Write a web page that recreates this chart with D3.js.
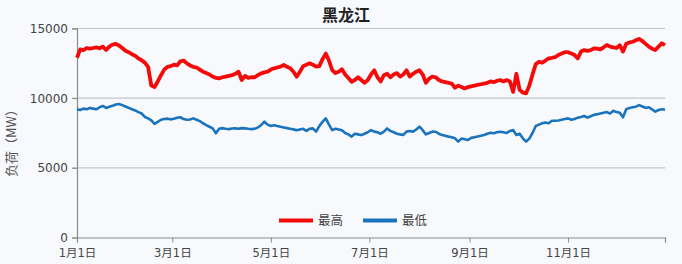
<!DOCTYPE html>
<html><head><meta charset="utf-8">
<script src="https://cdn.jsdelivr.net/npm/d3@7"></script>
<style>html,body{margin:0;padding:0;background:#f7f9fc;}svg{display:block;}</style>
</head><body>
<svg id="c" width="682" height="264"></svg>
<script>
// ---- data (one value every 2 days, starting Jan 1) ----
const title = "黑龙江";
const yLabel = "负荷（MW）";
const seriesNames = ["最高", "最低"];
const startDate = new Date(2019, 0, 1);
const dayStep = 2;
const maxLoad = [
12900,13500,13450,13600,13550,13600,13650,13580,13700,13460,13700,13850,13900,13780,13600,13400,13300,13150,13050,12850,
12720,12550,12250,10900,10800,11200,11650,12050,12250,12300,12400,12350,12650,12700,12500,12350,12250,12200,12050,11900,
11800,11700,11550,11450,11420,11500,11550,11600,11650,11750,11900,11300,11600,11450,11500,11500,11650,11780,11850,11900,
12050,12140,12200,12260,12380,12250,12150,11900,11540,11900,12300,12400,12500,12400,12260,12300,12800,13200,12700,12020,
11800,11900,12070,11700,11450,11180,11300,11500,11300,11100,11300,11700,12000,11500,11200,11650,11750,11500,11700,11800,
11550,11700,12000,11550,11750,11900,12000,11700,11100,11400,11550,11500,11300,11200,11150,11100,11050,10750,10900,10800,
10700,10800,10850,10900,10950,11000,11050,11100,11200,11150,11250,11300,11200,11300,11200,10450,11750,10600,10400,10350,
10900,11700,12450,12600,12550,12700,12860,12900,12950,13100,13200,13300,13300,13200,13100,12850,13350,13450,13400,13450,
13580,13550,13500,13650,13820,13700,13650,13600,13800,13340,13900,14000,14050,14150,14250,14100,13900,13700,13550,13460,
13700,13940,13800];
const minLoad = [
9200,9150,9250,9200,9300,9250,9200,9350,9440,9300,9380,9450,9550,9580,9500,9400,9300,9200,9120,9000,
8900,8650,8550,8400,8150,8300,8450,8500,8530,8480,8520,8600,8630,8500,8450,8470,8550,8450,8350,8200,
8070,7950,7830,7480,7800,7850,7800,7780,7820,7830,7800,7850,7830,7800,7780,7800,7900,8070,8310,8100,
8000,8050,8000,7950,7900,7850,7800,7760,7700,7750,7800,7650,7800,7830,7600,8000,8300,8550,8100,7710,
7800,7750,7700,7500,7400,7240,7450,7400,7350,7450,7550,7710,7600,7550,7450,7600,7830,7650,7550,7450,
7400,7360,7600,7650,7600,7750,7950,7700,7400,7500,7600,7590,7450,7350,7300,7240,7200,7120,6880,7100,
7050,7000,7150,7200,7250,7300,7360,7450,7520,7480,7550,7590,7550,7500,7650,7710,7360,7450,7120,6880,
7100,7500,8000,8100,8200,8250,8200,8380,8380,8400,8450,8500,8550,8450,8500,8600,8650,8720,8600,8700,
8800,8850,8900,8950,9000,8900,9100,9000,8950,8630,9200,9300,9350,9390,9500,9400,9300,9350,9200,9030,
9150,9200,9170];
const yTicks = [0, 5000, 10000, 15000];
const xTickDates = [[2019,0,1],[2019,2,1],[2019,4,1],[2019,6,1],[2019,8,1],[2019,10,1]];
const colors = ["#f50a0a", "#1a73bd"];

// ---- drawing ----
const svg = d3.select("#c");
const pLeft = 77, pRight = 665, pTop = 28.5, pBottom = 237.5;
const endDate = new Date(2019, 11, 31);
const x = d3.scaleTime().domain([startDate, endDate]).range([pLeft, pRight]);
const y = d3.scaleLinear().domain([0, 15000]).range([pBottom, pTop]);
const font = "'DejaVu Sans', 'Noto Sans CJK SC', sans-serif";

// gridlines
svg.append("g").selectAll("line").data(yTicks.filter(d => d > 0)).join("line")
  .attr("x1", pLeft - 5).attr("x2", pRight).attr("y1", d => y(d)).attr("y2", d => y(d))
  .attr("stroke", "#c4c6ca").attr("stroke-width", 1.2);

// y axis
const ya = svg.append("g").attr("transform", `translate(${pLeft},0)`)
  .call(d3.axisLeft(y).tickValues(yTicks).tickSize(5).tickPadding(4).tickFormat(d3.format("d")));
ya.select(".domain").attr("stroke", "#8a8c90").attr("stroke-width", 1.2);
ya.selectAll(".tick line").attr("stroke", "#8a8c90");
ya.selectAll("text").attr("font-family", font).attr("font-size", 12).attr("fill", "#444");

// x axis
const xTicks = xTickDates.map(a => new Date(a[0], a[1], a[2]));
const xa = svg.append("g").attr("transform", `translate(0,${pBottom})`)
  .call(d3.axisBottom(x).tickValues(xTicks.concat([endDate])).tickSize(5).tickPadding(6)
    .tickFormat(d => +d === +endDate ? "" : (d.getMonth() + 1) + "月" + d.getDate() + "日"));
xa.select(".domain").attr("stroke", "#8a8c90").attr("stroke-width", 1.2);
xa.selectAll(".tick line").attr("stroke", "#8a8c90");
xa.selectAll("text").attr("font-family", font).attr("font-size", 11.5).attr("fill", "#444");

// lines
const dateAt = i => d3.timeDay.offset(startDate, i * dayStep);
const line = d3.line().x((d, i) => x(dateAt(i))).y(d => y(d));
svg.append("path").datum(minLoad).attr("d", line).attr("fill", "none")
  .attr("stroke", colors[1]).attr("stroke-width", 2.6).attr("stroke-linejoin", "round");
svg.append("path").datum(maxLoad).attr("d", line).attr("fill", "none")
  .attr("stroke", colors[0]).attr("stroke-width", 3.8).attr("stroke-linejoin", "round");

// title
svg.append("text").attr("x", 346).attr("y", 21).attr("text-anchor", "middle")
  .attr("font-family", "'Noto Sans CJK SC', sans-serif").attr("font-weight", "bold")
  .attr("font-size", 16).attr("fill", "#222").text(title);

// y label
svg.append("text").attr("transform", "translate(16,140) rotate(-90)").attr("text-anchor", "middle")
  .attr("font-family", "'Noto Sans CJK SC', sans-serif").attr("font-size", 13).attr("fill", "#555").text(yLabel);

// legend
const lg = svg.append("g");
const legendX = [279, 363];
seriesNames.forEach((n, i) => {
  lg.append("line").attr("x1", legendX[i]).attr("x2", legendX[i] + 34).attr("y1", 220.5).attr("y2", 220.5)
    .attr("stroke", colors[i]).attr("stroke-width", 4);
  lg.append("text").attr("x", legendX[i] + 39).attr("y", 225).attr("font-family", "'Noto Sans CJK SC', sans-serif")
    .attr("font-size", 12.5).attr("fill", "#444").text(n);
});
</script>
</body></html>
